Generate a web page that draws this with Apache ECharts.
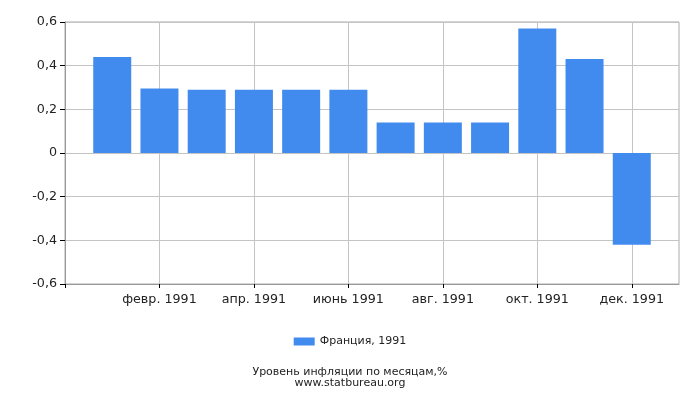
<!DOCTYPE html>
<html>
<head>
<meta charset="UTF-8">
<title>Инфляция, Франция 1991</title>
<script src="https://cdn.jsdelivr.net/npm/echarts@6/dist/echarts.min.js"></script>
<style>
  html, body { margin: 0; padding: 0; background: #fff; }
  #main { width: 700px; height: 400px; }
</style>
</head>
<body>
<div id="main"></div>
<script>
// месяцы (подписи оси X)
var months = ['янв. 1991', 'февр. 1991', 'март 1991', 'апр. 1991', 'май 1991', 'июнь 1991',
              'июль 1991', 'авг. 1991', 'сент. 1991', 'окт. 1991', 'нояб. 1991', 'дек. 1991'];
// инфляция по месяцам, %
var values = [0.44, 0.295, 0.29, 0.29, 0.29, 0.29, 0.14, 0.14, 0.14, 0.57, 0.43, -0.42];
// позиции меток по оси X (через месяц, с февраля)
var xTicks = [-1, 1, 3, 5, 7, 9, 11];
var seriesName = 'Франция, 1991';

var chart = echarts.init(document.getElementById('main'));

var points = [];
for (var i = 0; i < values.length; i++) {
  points.push([i, values[i]]);
}

var font = '"DejaVu Sans", Verdana, sans-serif';

var option = {
  animation: false,
  textStyle: { fontFamily: font },
  title: {
    text: 'Уровень инфляции по месяцам,%\nwww.statbureau.org',
    left: 'center',
    top: 362,
    textStyle: { fontFamily: font, fontSize: 11, fontWeight: 'normal', color: '#222', lineHeight: 11 }
  },
  legend: {
    data: [seriesName],
    top: 331,
    left: 'center',
    itemWidth: 21,
    itemHeight: 8,
    itemGap: 5,
    icon: 'rect',
    textStyle: { fontFamily: font, fontSize: 11, color: '#222' }
  },
  grid: {
    left: 65,
    right: 21,
    top: 22,
    bottom: 116,
    show: true,
    borderColor: '#aaa',
    borderWidth: 1
  },
  xAxis: {
    type: 'value',
    min: -1,
    max: 12,
    interval: 2,
    axisLine: { show: true, onZero: false, lineStyle: { color: '#999' } },
    axisTick: { show: true, length: 4, customValues: xTicks, lineStyle: { color: '#000' } },
    splitLine: { show: true, lineStyle: { color: '#c4c4c4' } },
    axisLabel: {
      fontFamily: font,
      fontSize: 12.7,
      color: '#222',
      margin: 9,
      formatter: function (v) {
        return months[v] || '';
      }
    }
  },
  yAxis: {
    type: 'value',
    min: -0.6,
    max: 0.6,
    interval: 0.2,
    axisLine: { show: true, onZero: false, lineStyle: { color: '#999' } },
    axisTick: { show: true, length: 5, lineStyle: { color: '#000' } },
    splitLine: { show: true, lineStyle: { color: '#c4c4c4' } },
    axisLabel: {
      fontFamily: font,
      fontSize: 12.7,
      color: '#222',
      margin: 8,
      formatter: function (v) {
        var r = Math.round(v * 10) / 10;
        return String(r).replace('.', ',');
      }
    }
  },
  series: [{
    name: seriesName,
    type: 'bar',
    barWidth: 38,
    itemStyle: { color: '#428bee' },
    data: points
  }]
};

chart.setOption(option);
</script>
</body>
</html>
